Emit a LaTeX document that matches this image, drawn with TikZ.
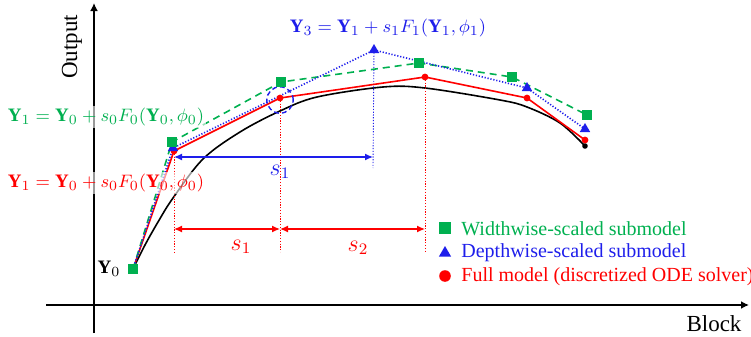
\documentclass[tikz,border=0pt]{standalone}
\usepackage{fontspec}
\setmainfont{Liberation Serif}
\usetikzlibrary{arrows.meta,shapes.geometric}
\definecolor{mygreen}{RGB}{0,176,80}
\definecolor{myblue}{RGB}{30,30,235}
\definecolor{myred}{RGB}{255,0,0}
\tikzset{
  axisline/.style={line width=1pt,-{Latex[length=4pt,width=4pt]}},
  sqmark/.style={rectangle,fill=mygreen,inner sep=0,minimum size=5pt},
  trimark/.style={regular polygon,regular polygon sides=3,fill=myblue,inner sep=0,minimum size=6pt},
  dotmark/.style={circle,fill=myred,inner sep=0,minimum size=3.4pt},
  greenline/.style={mygreen,line width=0.8pt,dash pattern=on 3.5pt off 2.5pt},
  blueline/.style={myblue,line width=0.8pt,dash pattern=on 0.6pt off 0.9pt},
  redline/.style={myred,line width=0.8pt},
  vdot/.style={line width=0.45pt,dash pattern=on 0.6pt off 0.8pt},
  dimarrow/.style={line width=0.6pt,{Latex[length=4pt,width=3.5pt]}-{Latex[length=4pt,width=3.5pt]}},
  formula/.style={fill=white,fill opacity=0.6,text opacity=1,inner sep=1pt,font=\fontsize{9.5}{11}\selectfont},
  slabel/.style={inner sep=0,font=\fontsize{11.5}{13}\selectfont},
  leg/.style={anchor=west,inner sep=0,font=\fontsize{10}{12}\selectfont},
  axlabel/.style={inner sep=0,font=\fontsize{11.5}{14}\selectfont}
}
\begin{document}
\begin{tikzpicture}[x=0.5pt,y=-0.5pt]
\useasboundingbox (0,0) rectangle (751,337);
% axes
\coordinate (xa0) at (46,305);
\coordinate (xa1) at (749,305);
\coordinate (ya0) at (94,333);
\coordinate (ya1) at (94,3);
\draw[axisline] (xa0) -- (xa1);
\draw[axisline] (ya0) -- (ya1);
\node[axlabel,rotate=90] (outlab) at (72,47) {Output};
\node[axlabel] (blocklab) at (714,324) {Block};
% points
\coordinate (g0) at (133,269);
\coordinate (g1) at (172,142);
\coordinate (g2) at (281,82);
\coordinate (g3) at (419,63);
\coordinate (g4) at (512,77);
\coordinate (g5) at (587,115);
\coordinate (b1) at (173,148);
\coordinate (b2) at (374,50);
\coordinate (b3) at (527,88);
\coordinate (b4) at (585,129);
\coordinate (r1) at (174,151);
\coordinate (r2) at (280,98);
\coordinate (r3) at (425,77);
\coordinate (r4) at (527,98);
\coordinate (r5) at (585,140);
\coordinate (kend) at (585,146);
% black curve
\draw[line width=0.8pt] plot[smooth,tension=0.55] coordinates {(134,267) (145,245) (158,222) (173,198) (203,159) (240,132) (280,111) (317,97) (383,87) (425,88) (500,100) (527,107) (560,123) (585,146)};
\fill (kend) circle (1.4pt);
% vertical guides
\coordinate (v1) at (174,252);
\coordinate (v2) at (280,252);
\coordinate (v3) at (425,252);
\coordinate (vb) at (373,168);
\draw[vdot,myred] (r1) -- (v1);
\draw[vdot,myred] (r2) -- (v2);
\draw[vdot,myred] (r3) -- (v3);
\draw[vdot,myblue] (b2) -- (vb);
% model lines
\draw[redline] (g0) -- (r1) -- (r2) -- (r3) -- (r4) -- (r5);
\draw[greenline] (g0) -- (g1) -- (g2) -- (g3) -- (g4) -- (g5);
\draw[blueline] (g0) -- (b1) -- (b2) -- (b3) -- (b4);
% dashed circle
\coordinate (cc) at (280,100);
\draw[myblue,line width=0.7pt,dash pattern=on 2.4pt off 1.6pt] (cc) circle (6.6pt);
% dimension arrows
\coordinate (a1) at (174,157);
\coordinate (a2) at (373,157);
\draw[dimarrow,myblue] (a1) -- (a2);
\coordinate (c1) at (174,229);
\coordinate (c2) at (280,229);
\coordinate (c3) at (425,229);
\draw[dimarrow,myred] (c1) -- (c2);
\draw[dimarrow,myred] (c2) -- (c3);
\node[slabel,myblue] (sb1) at (280,172) {$s_1$};
\node[slabel,myred] (sr1) at (241,247) {$s_1$};
\node[slabel,myred] (sr2) at (358,248) {$s_2$};
% formulas
\node[formula,text=mygreen] (fg) at (106,117) {$\mathbf{Y}_1=\mathbf{Y}_0+s_0F_0(\mathbf{Y}_0,\phi_0)$};
\node[formula,text=myred] (fr) at (106,183) {$\mathbf{Y}_1=\mathbf{Y}_0+s_0F_0(\mathbf{Y}_0,\phi_0)$};
\node[formula,text=myblue] (fb) at (388,28) {$\mathbf{Y}_3=\mathbf{Y}_1+s_1F_1(\mathbf{Y}_1,\phi_1)$};
\node[inner sep=0,font=\fontsize{9.5}{11}\selectfont] (y0lab) at (109,269) {$\mathbf{Y}_0$};
% markers
\foreach \p in {r1,r2,r3,r4,r5} \node[dotmark] at (\p) {};
\foreach \p in {b1,b2,b3,b4} \node[trimark] at (\p) {};
\foreach \p in {g0,g1,g2,g3,g4,g5} \node[sqmark] at (\p) {};
% legend
\node[sqmark,minimum size=5.6pt] (lm1) at (445,228) {};
\node[trimark,minimum size=7pt] (lm2) at (445,253) {};
\node[dotmark,minimum size=5.8pt] (lm3) at (445,276) {};
\node[leg,text=mygreen] (lt1) at (461,229) {Widthwise-scaled submodel};
\node[leg,text=myblue] (lt2) at (461,253) {Depthwise-scaled submodel};
\node[leg,text=myred] (lt3) at (461,277) {Full model (discretized ODE solver)};
\end{tikzpicture}
\end{document}
